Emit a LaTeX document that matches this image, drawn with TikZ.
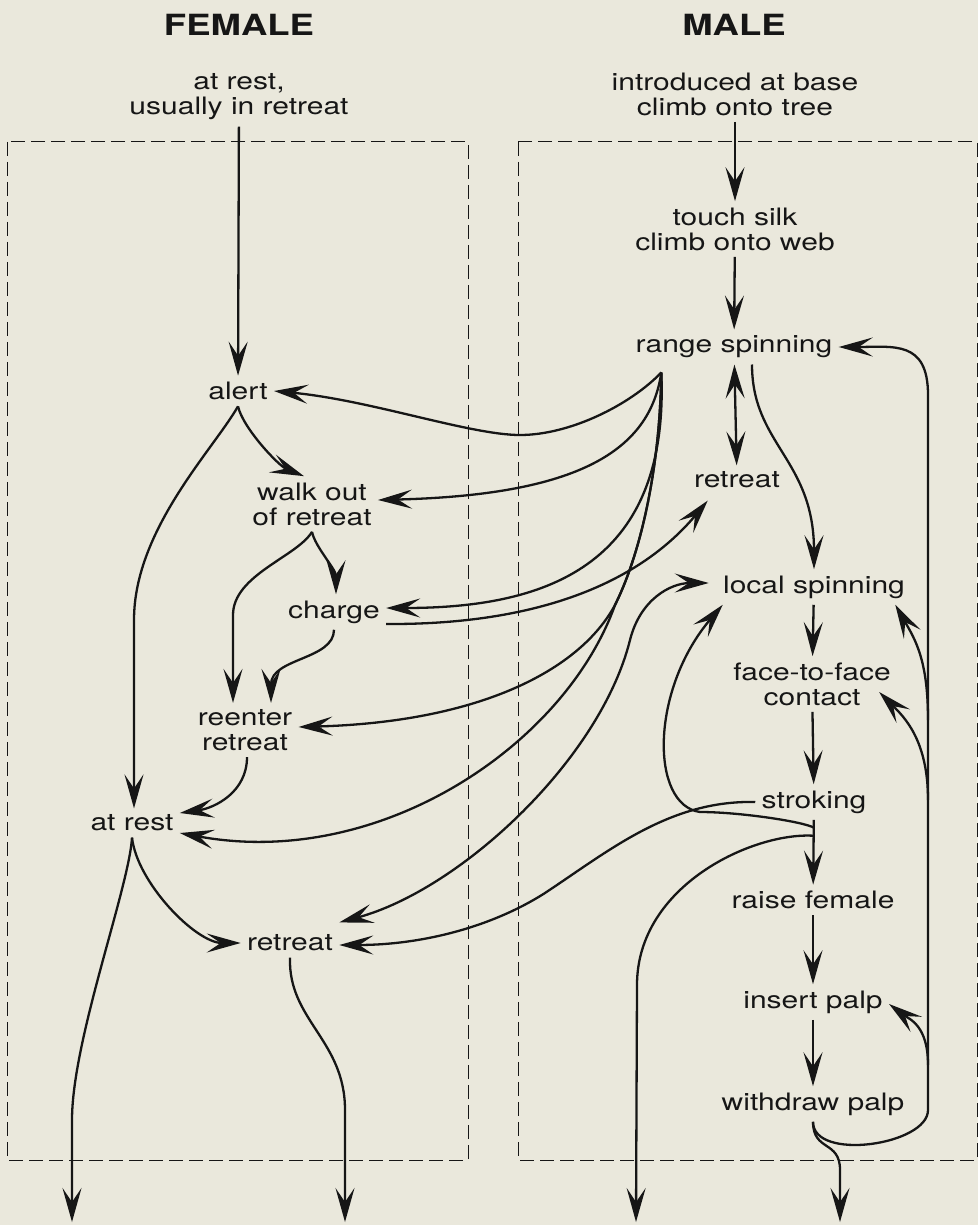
\documentclass[tikz,border=0pt]{standalone}
\usepackage{fontspec}
\setmainfont{TeX Gyre Heros}[FakeStretch=1.25]
\usetikzlibrary{arrows.meta}
\definecolor{paper}{RGB}{234,232,220}
\definecolor{ink}{RGB}{22,22,22}
\begin{document}
\begin{tikzpicture}[x=0.5pt, y=-0.5pt,
		lbl/.style={align=center, inner sep=3pt, text=ink, font=\fontsize{12}{12.5}\selectfont},
		ttl/.style={inner sep=0pt, text=ink, font=\fontsize{14.6}{16}\selectfont\bfseries},
		flow/.style={draw=ink, line width=1.15pt, -{Stealth[length=17pt, width=9.5pt, inset=7pt]}},
		dflow/.style={draw=ink, line width=1.15pt, {Stealth[length=17pt, width=9.5pt, inset=7pt]}-{Stealth[length=17pt, width=9.5pt, inset=7pt]}},
		box/.style={draw=ink, line width=0.5pt, dash pattern=on 7pt off 3pt}]

		\fill[paper] (0, 0) rectangle (978, 1225);

		\draw[box] (7, 142) rectangle (468, 1160);
		\draw[box] (518, 142) rectangle (977, 1160);

		\node[ttl] (ftitle) at (239, 25) {FEMALE};
		\node[ttl] (mtitle) at (734, 25) {MALE};

		% female side
		\node[lbl] (fstart) at (239, 97) {at rest,\\usually in retreat};
		\node[lbl] (alert) at (238, 391) {alert};
		\node[lbl] (walk) at (312, 504) {walk out\\of retreat};
		\node[lbl] (charge) at (334, 612) {charge};
		\node[lbl] (reenter) at (245, 730) {reenter\\retreat};
		\node[lbl] (frest) at (132, 823) {at rest};
		\node[lbl] (fretr) at (290, 943) {retreat};

		% male side
		\node[lbl] (mstart) at (735, 94) {introduced at base\\climb onto tree};
		\node[lbl] (touch) at (735, 229) {touch silk\\climb onto web};
		\node[lbl] (range) at (734, 347) {range spinning};
		\node[lbl] (mretr) at (737, 480) {retreat};
		\node[lbl] (local) at (814, 587) {local spinning};
		\node[lbl] (face) at (812, 684) {face-to-face\\contact};
		\node[lbl] (strok) at (814, 802) {stroking};
		\node[lbl] (raise) at (813, 900) {raise female};
		\node[lbl] (insert) at (813, 1002) {insert palp};
		\node[lbl] (withd) at (813, 1104) {withdraw palp};

		\coordinate (ex1) at (72, 1222);
		\coordinate (ex2) at (345, 1222);
		\coordinate (ex3) at (636, 1222);
		\coordinate (ex4) at (840, 1222);
		\coordinate (fan) at ([xshift=16pt, yshift=-4pt]range.south west);
		\coordinate (split) at (615, 605);
		\coordinate (lpb) at (928, 1110);
		\coordinate (lpt) at (928, 395);

		% female flow
		\draw[flow] (fstart) -- (alert);
		\draw[flow] (alert.south) .. controls +(5, 22) and +(-25, -10) .. ([xshift=-4pt]walk.north);
		\draw[flow] (alert.south) .. controls (213, 450) and (134, 530) .. (134, 620) -- ([xshift=1pt]frest.north);
		\draw[flow] (walk.south) .. controls +(3, 15) and +(0, -25) .. ([xshift=1pt]charge.north);
		\draw[flow] (walk.south) .. controls +(-15, 25) and +(0, -40) .. (233, 615) -- ([xshift=-6pt]reenter.north);
		\draw[flow] (charge.south) .. controls +(0, 30) and +(0, -45) .. ([xshift=13pt]reenter.north);
		\draw[flow] ([xshift=1pt]reenter.south) .. controls +(0, 35) and +(35, -5) .. ([yshift=5pt]frest.east);
		\draw[flow] (frest.south) .. controls +(5, 45) and +(-45, 0) .. (fretr.west);
		\draw[flow] (frest.south) .. controls (129, 888) and (72, 1040) .. (72, 1120) -- (ex1);
		\draw[flow] (fretr.south) .. controls (288, 1020) and (345, 1040) .. (345, 1110) -- (ex2);

		% male flow
		\draw[flow] (mstart) -- (touch);
		\draw[flow] (touch) -- (range);
		\draw[dflow] (range) -- (mretr);
		\draw[flow] ([xshift=9pt]range.south) .. controls +(0, 80) and +(0, -110) .. (local.north);
		\draw[flow] (local) -- (face);
		\draw[flow] (face) -- (strok);
		\draw[flow] (strok) -- (raise);
		\draw[flow] (raise) -- (insert);
		\draw[flow] (insert) -- (withd);

		% feedback from withdraw palp
		\draw[flow] (withd.south) .. controls +(0, 40) and +(0, 35) .. (lpb) -- (lpt)
			.. controls +(0, -55) and +(55, 0) .. (range.east);
		\draw[flow] (928, 720) .. controls +(0, -60) and +(20, 35) .. ([xshift=-8pt]local.south east);
		\draw[flow] (928, 800) .. controls +(0, -60) and +(25, 25) .. ([xshift=-9pt, yshift=-4pt]face.east);
		\draw[flow] (928, 1065) .. controls +(0, -40) and +(20, 15) .. ([yshift=-1pt]insert.east);
		\draw[flow] (withd.south) .. controls +(0, 30) and +(0, -30) .. (840, 1170) -- (ex4);

		% from stroking
		\draw[flow] ([yshift=-4pt]strok.south) .. controls +(-10, -6) and +(40, 0) .. (700, 812)
			.. controls (650, 805) and (650, 690) .. ([xshift=3pt]local.south west);
		\draw[flow] (strok.west) .. controls (670, 800) and (610, 850) .. (545, 893)
			.. controls (490, 928) and (420, 945) .. ([yshift=-1pt]fretr.east);
		\draw[flow] ([yshift=-8pt]strok.south) .. controls +(-60, -4) and +(0, -100) .. (637, 985) -- (ex3);

		% from range spinning to the female
		\draw[flow] (fan) .. controls (630, 405) and (570, 435) .. (520, 435)
			.. controls (470, 435) and (370, 400) .. (alert.east);
		\draw[flow] (fan) .. controls (650, 450) and (580, 495) .. ([yshift=2pt]walk.east);
		\draw[flow] (fan) .. controls (670, 570) and (540, 608) .. ([yshift=2pt]charge.east);
		\draw[flow] (fan) .. controls (660, 470) and (640, 555) .. (split)
			.. controls (580, 670) and (480, 722) .. ([yshift=1.5pt]reenter.east);
		\draw[flow] (fan) .. controls (660, 470) and (640, 555) .. (split)
			.. controls (565, 745) and (380, 870) .. ([yshift=-5pt]frest.east);

		% between the two sides
		\draw[flow] ([yshift=-6pt]charge.east) .. controls (560, 625) and (650, 570) .. ([xshift=10pt, yshift=-3pt]mretr.south west);
		\draw[dflow] ([xshift=-4pt, yshift=2pt]local.west) .. controls (670, 583) and (640, 600) .. (630, 640)
			.. controls (600, 760) and (460, 890) .. ([yshift=3pt]fretr.north east);
	\end{tikzpicture}
\end{document}
